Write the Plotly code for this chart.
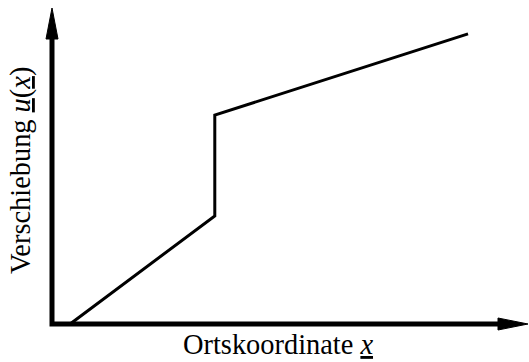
import plotly.graph_objects as go

# Piecewise displacement curve: linear rise, jump, flatter rise
x_pos = [0.38, 3.42, 3.42, 8.74]
u_disp = [0.0, 3.42, 6.61, 9.18]

x_label = "Ortskoordinate <i><u>x</u></i>"
y_label = "Verschiebung <i><u>u</u></i>(<i><u>x</u></i>)"

W, H = 529, 362
# pixel scale of the drawing area (axis origin at 52,324; arrow tips at 528 / 8)
sx = (528 - 52) / 10.0
sy = (324 - 8) / 10.0
x_range = [-52 / sx, -52 / sx + W / sx]
y_range = [-(H - 324) / sy, 10 + 8 / sy]

fig = go.Figure()
fig.add_trace(go.Scatter(
    x=x_pos, y=u_disp, mode="lines",
    line=dict(color="black", width=3),
    hoverinfo="skip", showlegend=False,
))

shapes = [
    # axes with square corner
    dict(type="path", xref="x", yref="y",
         path="M 0,9.05 L 0,0 L 9.42,0",
         line=dict(color="black", width=5)),
    # arrowhead on the vertical axis
    dict(type="path", xref="x", yref="y", xsizemode="pixel", ysizemode="pixel",
         xanchor=0, yanchor=10,
         path="M -6,-31 L 0,0 L 6,-31 Z",
         fillcolor="black", line=dict(color="black", width=1)),
    # arrowhead on the horizontal axis
    dict(type="path", xref="x", yref="y", xsizemode="pixel", ysizemode="pixel",
         xanchor=10, yanchor=0,
         path="M -30,6 L 0,0 L -30,-6 Z",
         fillcolor="black", line=dict(color="black", width=1)),
]

font = dict(family="Liberation Serif, Times New Roman, serif", size=28.4, color="black")

# label positions given in pixels from the top-left corner
label_px = [(x_label, 278, 344, 0), (y_label, 21, 171, -90)]
annotations = []
for text, px, py, angle in label_px:
    annotations.append(dict(
        text=text, showarrow=False, textangle=angle, font=font,
        xref="x", yref="y", xanchor="center", yanchor="middle",
        x=x_range[0] + px / sx, y=y_range[0] + (H - py) / sy,
    ))

fig.update_layout(
    width=W, height=H,
    margin=dict(l=0, r=0, t=0, b=0),
    paper_bgcolor="white", plot_bgcolor="white",
    xaxis=dict(range=x_range, visible=False, fixedrange=True),
    yaxis=dict(range=y_range, visible=False, fixedrange=True),
    shapes=shapes, annotations=annotations,
)

fig.write_html("out.html")
